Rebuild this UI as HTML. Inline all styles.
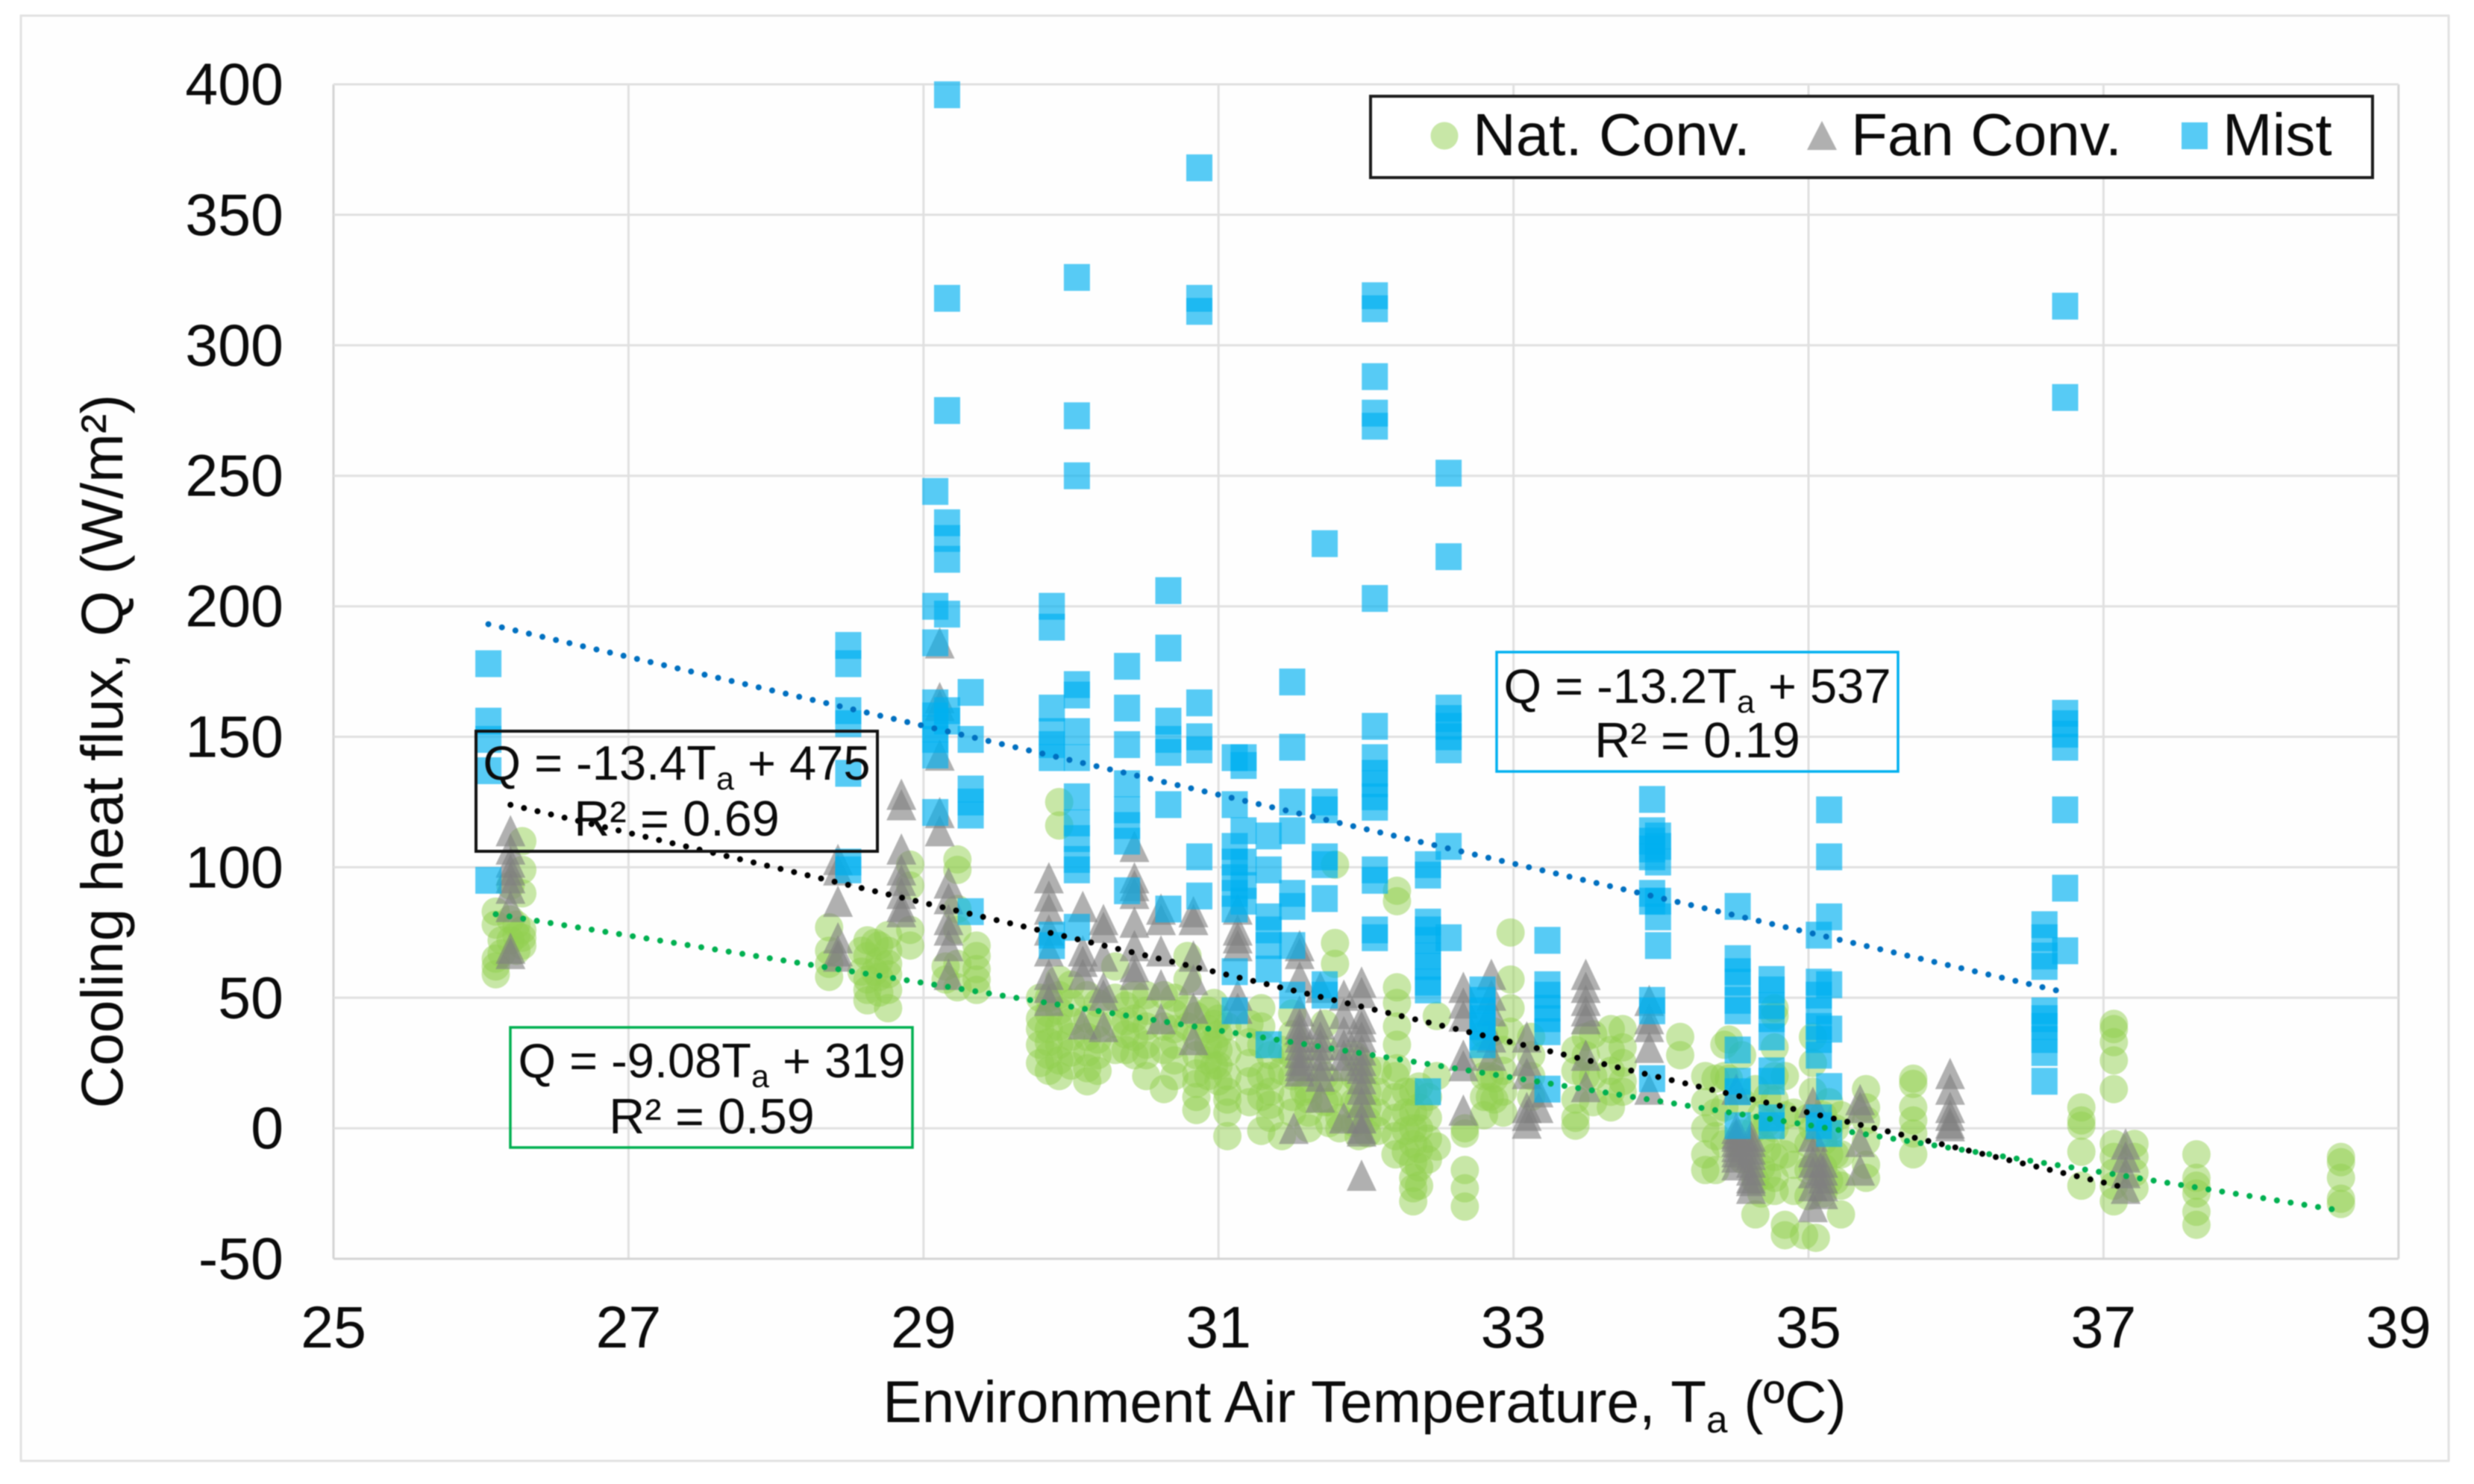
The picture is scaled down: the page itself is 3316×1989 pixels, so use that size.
<!DOCTYPE html>
<html lang="en">
<head>
<meta charset="utf-8">
<title>Cooling heat flux vs environment air temperature</title>
<style>
html,body{margin:0;padding:0;background:#fff}
svg{display:block;font-family:"Liberation Sans",Arial,sans-serif;filter:blur(0.9px)}
text{fill:#0b0b0b}
</style>
</head>
<body>
<svg id="chart" xmlns="http://www.w3.org/2000/svg" width="3316" height="1989" viewBox="0 0 3316 1989">
<rect x="0" y="0" width="3316" height="1989" fill="#ffffff"/>
<rect x="28" y="21" width="3254" height="1937" fill="#fefefe" stroke="#e2e2e2" stroke-width="3"/>
<g id="grid"></g>
<g id="nat"></g>
<g id="fan"></g>
<g id="mist"></g>
<g id="trends"></g>
<g id="ticks"></g>

<text transform="translate(164,1007) rotate(-90)" text-anchor="middle" font-size="79">Cooling heat flux, Q (W/m²)</text>
<text x="1829" y="1906" text-anchor="middle" font-size="78.4">Environment Air Temperature, T<tspan font-size="51" dy="14">a</tspan><tspan dy="-14"> (ºC)</tspan></text>

<g>
<rect x="1837" y="129" width="1343" height="109" fill="#ffffff" stroke="#1c1c1c" stroke-width="4"/>
<circle cx="1936" cy="182" r="18.5" fill="#92d050" fill-opacity="0.5"/>
<text x="1974" y="208" font-size="80">Nat. Conv.</text>
<polygon points="2442,162 2462,201 2422,201" fill="#7f7f7f" fill-opacity="0.62"/>
<text x="2481" y="208" font-size="80">Fan Conv.</text>
<rect x="2924" y="164" width="35" height="36" fill="#00b0f0" fill-opacity="0.66"/>
<text x="2979" y="208" font-size="80">Mist</text>
</g>

<g>
<rect x="638" y="980" width="538" height="161" fill="none" stroke="#111111" stroke-width="4"/>
<text x="907" y="1045" text-anchor="middle" font-size="65">Q = -13.4T<tspan font-size="43" dy="13">a</tspan><tspan dy="-13"> + 475</tspan></text>
<text x="907" y="1120" text-anchor="middle" font-size="66.5">R² = 0.69</text>
</g>
<g>
<rect x="684" y="1377" width="539" height="161" fill="none" stroke="#00b050" stroke-width="3.5"/>
<text x="954" y="1444" text-anchor="middle" font-size="65">Q = -9.08T<tspan font-size="43" dy="13">a</tspan><tspan dy="-13"> + 319</tspan></text>
<text x="954" y="1519" text-anchor="middle" font-size="66.5">R² = 0.59</text>
</g>
<g>
<rect x="2006" y="874" width="538" height="160" fill="none" stroke="#00b0f0" stroke-width="3.5"/>
<text x="2275" y="942" text-anchor="middle" font-size="65">Q = -13.2T<tspan font-size="43" dy="13">a</tspan><tspan dy="-13"> + 537</tspan></text>
<text x="2275" y="1015" text-anchor="middle" font-size="66.5">R² = 0.19</text>
</g>
</svg>

<script>
// ---- axis ticks ----
const xTicks = [25, 27, 29, 31, 33, 35, 37, 39];
const yTicks = [400, 350, 300, 250, 200, 150, 100, 50, 0, -50];

// ---- Mist series: column temperatures, and flux readings per column ----
const mistTemps = [26.05, 28.49, 29.08, 29.16, 29.32, 29.87, 30.04, 30.38, 30.66, 30.87, 31.11, 31.17, 31.34, 31.5, 31.72, 32.06, 32.42, 32.56, 32.79, 33.23, 33.94, 33.98, 34.52, 34.75, 35.07, 35.14, 36.6, 36.74];
const mistFlux = [
  [178, 156, 149, 137, 95],
  [185, 178, 160, 155, 136, 102, 99],
  [244, 200, 186, 163, 158, 153, 149, 143, 121],
  [396, 318, 275, 232, 226, 218, 197, 160, 156],
  [167, 149, 130, 125, 120, 83],
  [200, 192, 161, 152, 147, 142, 74, 70],
  [326, 273, 250, 170, 166, 152, 142, 127, 117, 111, 103, 99, 77],
  [177, 161, 147, 132, 122, 116, 110, 91],
  [206, 184, 156, 149, 144, 124, 84],
  [368, 318, 313, 163, 150, 145, 104, 89],
  [142, 124, 108, 102, 96, 90, 84, 60, 45],
  [142, 139, 114, 102, 93, 87],
  [112, 99, 81, 76, 70, 61, 32],
  [171, 146, 125, 114, 90, 85, 70, 51],
  [224, 125, 122, 104, 101, 88, 55, 51],
  [319, 314, 288, 274, 269, 203, 154, 142, 136, 132, 127, 123, 99, 95, 76, 73],
  [101, 97, 79, 76, 72, 66, 62, 56, 53, 14],
  [251, 219, 161, 157, 154, 150, 145, 108, 73],
  [53, 49, 45, 42, 39, 35, 32],
  [72, 55, 51, 46, 42, 37, 15],
  [126, 114, 110, 107, 104, 90, 87, 49, 45, 19],
  [112, 108, 102, 87, 81, 70],
  [85, 65, 60, 56, 49, 45, 30, 18, 14, 1],
  [57, 53, 47, 42, 35, 22, 18, 4, 1],
  [74, 56, 51, 45, 39, 34, 28, 4, 1],
  [122, 104, 81, 55, 38, 16, -2],
  [78, 73, 66, 62, 45, 42, 39, 34, 29, 18],
  [315, 280, 159, 155, 151, 146, 122, 92, 68]
];

// ---- Fan convection series ----
const fanTemps = [26.2, 28.42, 28.85, 29.11, 29.17, 29.85, 30.08, 30.22, 30.43, 30.61, 30.83, 31.13, 31.51, 31.55, 31.69, 31.85, 31.97, 32.66, 32.85, 33.09, 33.17, 33.49, 33.92, 34.51, 34.61, 35.03, 35.1, 35.35, 35.96, 37.15];
const fanFlux = [
  [114, 107, 102, 99, 96, 92, 85, 69, 67],
  [103, 99, 87, 73, 68, 66],
  [128, 124, 107, 99, 95, 90, 85, 83],
  [186, 165, 162, 143, 121, 114],
  [94, 88, 80, 76, 70, 59],
  [96, 89, 84, 76, 68, 59, 54, 49],
  [85, 68, 64, 59, 40],
  [80, 77, 66, 54, 51, 39],
  [108, 96, 93, 90, 79, 70, 62, 59],
  [84, 80, 68, 55, 42],
  [83, 80, 66, 57, 46, 34],
  [84, 76, 73, 70, 51, 46],
  [0],
  [70, 67, 58, 45, 40, 38, 35, 32, 29, 26, 24, 22],
  [54, 40, 35, 32, 28, 24, 20, 12],
  [51, 44, 37, 32, 28, 24, 4],
  [56, 52, 42, 39, 35, 30, 26, 23, 19, 15, 10, 4, 0, -1, -18],
  [54, 48, 43, 28, 24, 7],
  [59, 51, 45, 35, 28],
  [35, 26, 21, 8, 5, 2],
  [14, 8],
  [59, 54, 49, 45, 42, 28, 16],
  [49, 42, 39, 31, 15],
  [15, 0, -2, -3, -5, -7, -9, -11, -14],
  [-3, -5, -8, -10, -13, -16, -19, -20, -23],
  [10, -3, -9, -13, -17, -22, -30],
  [-13, -16, -19, -22, -25],
  [11, 8, -5, -16],
  [21, 15, 8, 5, 2, 1],
  [-6, -11, -17, -23]
];

// ---- Natural convection series ----
const natTemps = [26.1, 26.2, 26.28, 28.36, 28.62, 28.67, 28.76, 28.91, 29.15, 29.23, 29.36, 29.79, 29.92, 30.11, 30.3, 30.43, 30.51, 30.63, 30.79, 30.85, 30.97, 31.06, 31.29, 31.35, 31.43, 31.61, 31.72, 31.79, 31.82, 31.92, 32.01, 32.21, 32.27, 32.32, 32.48, 32.67, 32.84, 32.87, 32.98, 33.12, 33.42, 33.49, 33.74, 34.13, 34.37, 34.43, 34.46, 34.55, 34.64, 34.77, 34.84, 34.97, 35.03, 35.05, 35.14, 35.22, 35.39, 35.71, 36.85, 37.07, 37.21, 37.63, 38.61,
  26.24, 26.14, 28.7, 28.58, 29.85, 30.0, 30.18, 30.37, 30.7, 30.93, 31.0, 31.21, 31.5, 31.58, 31.75, 31.95, 32.08, 32.2, 32.36, 32.42, 32.8, 32.93, 33.54, 33.66, 34.3, 34.68, 34.72, 34.9, 35.0, 35.1, 35.18];
const natFlux = [
  [83, 78, 65, 62, 59],
  [93, 80, 72],
  [110, 99, 90, 76, 73, 70],
  [77, 68, 63, 58],
  [72, 66, 57, 53, 49],
  [71, 60],
  [74, 68, 63, 59, 53, 46],
  [101, 93, 76, 70],
  [62, 57],
  [103, 99, 84, 76, 63, 54],
  [70, 66, 61, 57, 53],
  [42, 32, 25, 50, 38],
  [125, 116, 57, 51, 45, 39, 32, 26, 20],
  [51, 42, 35, 29, 23, 18],
  [62, 50, 40, 30],
  [51, 42, 35, 28],
  [51, 45, 39, 32, 28, 20],
  [51, 39, 30, 15],
  [66, 57, 46, 39],
  [43, 35, 28, 21, 17, 12, 7],
  [48, 40, 32, 24],
  [39, 29, 20, 14, 11, 6, -3],
  [46, 39, 32, 20, 12, -1],
  [28, 20, 14, 9, 4],
  [-3, 30, 22],
  [15, 11, 6, 0],
  [40, 30, 20, 10],
  [101, 71, 63],
  [14, 4, 0],
  [28, 20, 10, 2],
  [23, 14, 8, 3, -2],
  [91, 87, 54, 48, 39, 32, 23],
  [6, -1, -9, 14],
  [14, 6, 0, -6, -13, -19, -23, -28],
  [43, 20, -7],
  [0, -2, -16, -23, -30],
  [20, 12],
  [37, 19, 11],
  [75, 57, 46, 37],
  [35, 28, 20, 12],
  [11, 4, 1, 30, 22],
  [35, 28, 20],
  [38, 31, 25, 18, 14],
  [35, 28],
  [19, 6, -3, -16],
  [32, 20, 8, -6],
  [34, 19],
  [28, 10, -2, -12],
  [-33, 15, 0, -20],
  [46, 43, 31, 20, 11, 0, -11, -19, -24],
  [-37, -41, 20, 5, -10],
  [-41],
  [35, 25, 14, 0, -15],
  [-42],
  [10, 0, -10, -20],
  [-22, -33, 5, -10],
  [15, 8, 3, -5, -14, -19],
  [19, 17, 8, 3, -2, -10],
  [8, 3, 1, -9, -22],
  [40, 38, 33, 26, 15, -6, -11, -17, -22, -28],
  [-6, -11, -17, -23],
  [-10, -19, -22, -25, -32, -37],
  [-11, -13, -19, -27, -29],
  [78, 74, 68],
  [72, 67],
  [70, 64, 58, 52],
  [68, 60],
  [50, 44, 38, 33, 28, 22],
  [55, 48, 41, 35, 29, 24],
  [48, 40, 34, 28, 22],
  [47, 41, 36, 30],
  [50, 44, 38, 32, 26, 20],
  [45, 38, 32, 26, 20],
  [42, 36, 30, 24, 18],
  [40, 33, 25, 18, 10],
  [44, 36, 28, 20, 12, 6],
  [30, 22, 14],
  [18, 10, 2],
  [26, 18, 10, 3, -3],
  [22, 14, 6, -1],
  [20, 12, 4, -3, -10],
  [16, 8, 0, -8, -15, -22],
  [12, 4, -4, -12],
  [36, 28, 20, 12, 5],
  [30, 22, 14, 6],
  [36, 20, 10],
  [38, 30, 22, 14, 8],
  [20, 10, 0, -10, -16],
  [5, -5, -15, -25],
  [12, 2, -8, -18],
  [6, -4, -14, -24],
  [4, -6, -16, -26],
  [5, -5, -15, -25],
  [0, -10, -20]
];

// ---- Trendline equations: slope, intercept, and T range of each fit ----
const trendNames = ['nat', 'fan', 'mist'];
const trendSlopes = [-9.08, -13.4, -13.2];
const trendIntercepts = [319, 475, 537];
const trendStarts = [26.1, 26.2, 26.05];
const trendEnds = [38.57, 37.1, 36.68];
const trendColors = ['#00b050', '#000000', '#0070c0'];

// ---- axis functions ----
function xScale(t) { return 447 + (t - 25) * 197.7; }
function yScale(q) { return 113 + (400 - q) * 3.498; }

const NS = 'http://www.w3.org/2000/svg';
function mk(tag, parent) {
  const el = document.createElementNS(NS, tag);
  parent.appendChild(el);
  return el;
}

// gridlines and tick labels
const gridG = document.getElementById('grid');
const tickG = document.getElementById('ticks');
xTicks.forEach(function (t, i) {
  const l = mk('line', gridG);
  
  
  l.setAttribute('x1', xScale(t));
  l.setAttribute('x2', xScale(t));
  l.setAttribute('y1', yScale(400));
  l.setAttribute('y2', yScale(-50));
  const edge = i === 0 || i === xTicks.length - 1;
  l.setAttribute('stroke', edge ? '#d4d4d4' : '#e0e0e0');
  l.setAttribute('stroke-width', '3');
  const tx = mk('text', tickG);
  
  
  tx.setAttribute('x', xScale(t));
  tx.setAttribute('y', 1806);
  tx.setAttribute('text-anchor', 'middle');
  tx.setAttribute('font-size', '79');
  tx.textContent = t;
});
yTicks.forEach(function (q, i) {
  const l = mk('line', gridG);
  
  
  l.setAttribute('x1', xScale(25));
  l.setAttribute('x2', xScale(39));
  l.setAttribute('y1', yScale(q));
  l.setAttribute('y2', yScale(q));
  const edge = i === yTicks.length - 1;
  l.setAttribute('stroke', edge ? '#d4d4d4' : '#e0e0e0');
  l.setAttribute('stroke-width', '3');
  const tx = mk('text', tickG);
  
  
  tx.setAttribute('x', 380);
  tx.setAttribute('y', yScale(q) + 27);
  tx.setAttribute('text-anchor', 'end');
  tx.setAttribute('font-size', '79');
  tx.textContent = q;
});

// natural convection circles
const natG = document.getElementById('nat');
natTemps.forEach(function (t, i) {
  natFlux[i].forEach(function (q) {
    const c = mk('circle', natG);
    
    
    c.setAttribute('cx', xScale(t));
    c.setAttribute('cy', yScale(q));
    c.setAttribute('r', 19);
    c.setAttribute('fill', '#92d050');
    c.setAttribute('fill-opacity', '0.5');
  });
});

// fan convection triangles
const fanG = document.getElementById('fan');
fanTemps.forEach(function (t, i) {
  fanFlux[i].forEach(function (q) {
    const x = xScale(t), y = yScale(q);
    const p = mk('polygon', fanG);
    
    
    p.setAttribute('points', x + ',' + (y - 21) + ' ' + (x + 20) + ',' + (y + 21) + ' ' + (x - 20) + ',' + (y + 21));
    p.setAttribute('fill', '#7f7f7f');
    p.setAttribute('fill-opacity', '0.62');
  });
});

// mist squares
const mistG = document.getElementById('mist');
mistTemps.forEach(function (t, i) {
  mistFlux[i].forEach(function (q) {
    const r = mk('rect', mistG);
    
    
    r.setAttribute('x', xScale(t) - 17.5);
    r.setAttribute('y', yScale(q) - 18);
    r.setAttribute('width', 35);
    r.setAttribute('height', 36);
    r.setAttribute('fill', '#00b0f0');
    r.setAttribute('fill-opacity', '0.66');
  });
});

// dotted trendlines
const trendG = document.getElementById('trends');
trendNames.forEach(function (name, i) {
  const l = mk('line', trendG);
  
  
  l.setAttribute('x1', xScale(trendStarts[i]));
  l.setAttribute('y1', yScale(trendSlopes[i] * trendStarts[i] + trendIntercepts[i]));
  l.setAttribute('x2', xScale(trendEnds[i]));
  l.setAttribute('y2', yScale(trendSlopes[i] * trendEnds[i] + trendIntercepts[i]));
  l.setAttribute('stroke', trendColors[i]);
  l.setAttribute('stroke-width', '8');
  l.setAttribute('stroke-linecap', 'round');
  l.setAttribute('stroke-dasharray', '0 18.6');
});
</script>
</body>
</html>
